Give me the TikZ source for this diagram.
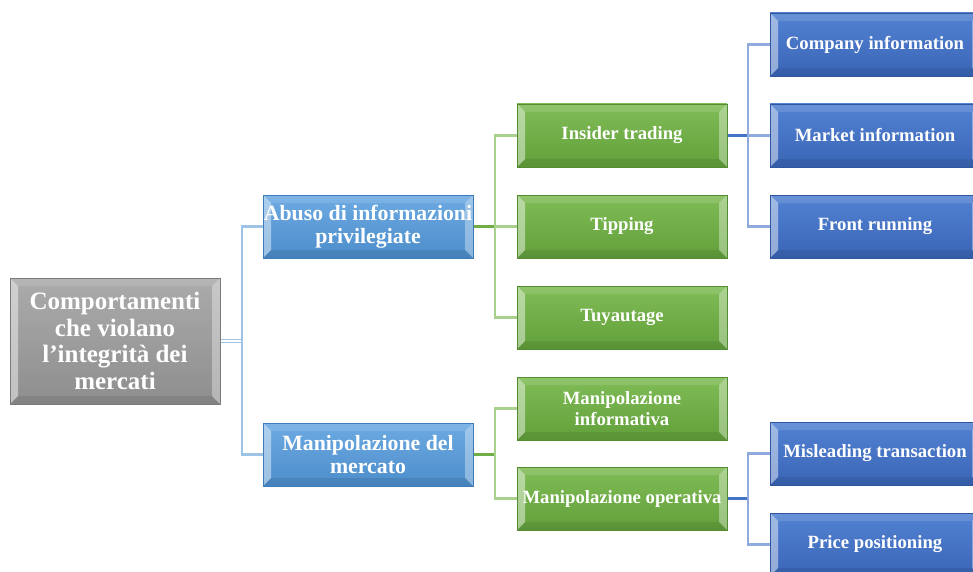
\documentclass[tikz,border=0pt]{standalone}
\usepackage{fontspec}
\setmainfont{Liberation Serif}
\usetikzlibrary{calc,backgrounds}
\definecolor{grayT}{HTML}{ABABAB}
\definecolor{grayB}{HTML}{8E8E8E}
\definecolor{grayD}{HTML}{7A7A7A}
\definecolor{lbT}{HTML}{6DAAE2}
\definecolor{lbB}{HTML}{4C8DCB}
\definecolor{lbD}{HTML}{3F7DB8}
\definecolor{gT}{HTML}{80BC57}
\definecolor{gB}{HTML}{62A03A}
\definecolor{gD}{HTML}{548C31}
\definecolor{dbT}{HTML}{5382D2}
\definecolor{dbB}{HTML}{3A65B6}
\definecolor{dbD}{HTML}{2F569E}
\definecolor{cLB}{HTML}{9DC3E6}
\definecolor{cLG}{HTML}{A9D18E}
\definecolor{cDG}{HTML}{70AD47}
\definecolor{cLD}{HTML}{8FAADC}
\definecolor{cDD}{HTML}{4472C4}
\tikzset{
  bevel/.style={path picture={
    \fill[white,opacity=0.45] (path picture bounding box.north west) -- ([xshift=8pt,yshift=-8pt]path picture bounding box.north west) -- ([xshift=8pt,yshift=8pt]path picture bounding box.south west) -- (path picture bounding box.south west) -- cycle;
    \fill[white,opacity=0.35] (path picture bounding box.north east) -- ([xshift=-8pt,yshift=-8pt]path picture bounding box.north east) -- ([xshift=-8pt,yshift=8pt]path picture bounding box.south east) -- (path picture bounding box.south east) -- cycle;
    \fill[white,opacity=0.12] (path picture bounding box.north west) -- (path picture bounding box.north east) -- ([xshift=-8pt,yshift=-8pt]path picture bounding box.north east) -- ([xshift=8pt,yshift=-8pt]path picture bounding box.north west) -- cycle;
    \fill[black,opacity=0.08] (path picture bounding box.south west) -- (path picture bounding box.south east) -- ([xshift=-8pt,yshift=8pt]path picture bounding box.south east) -- ([xshift=8pt,yshift=8pt]path picture bounding box.south west) -- cycle;
  }},
  boxbase/.style={bevel, rectangle, inner sep=0pt, minimum width=210pt, text=white, align=center, font=\bfseries, line width=0.8pt},
  rootbox/.style={boxbase, top color=grayT, bottom color=grayB, draw=grayD, minimum height=126pt, font=\bfseries\fontsize{25}{26.5}\selectfont},
  midbox/.style={boxbase, top color=lbT, bottom color=lbB, draw=lbD, minimum height=63pt, font=\bfseries\fontsize{21.8}{23.5}\selectfont},
  greenbox/.style={boxbase, top color=gT, bottom color=gB, draw=gD, minimum height=63pt, font=\bfseries\fontsize{18.7}{20.5}\selectfont},
  bluebox/.style={boxbase, top color=dbT, bottom color=dbB, draw=dbD, minimum height=63pt, font=\bfseries\fontsize{18.7}{20.5}\selectfont},
  conn/.style={line width=2.5pt},
}
\begin{document}
\begin{tikzpicture}[x=1pt,y=-1pt]
\clip (0,0) rectangle (973,572);
% junction coordinates
\coordinate (j1) at (242,341);
\coordinate (j2) at (495,226.5);
\coordinate (j3) at (495,454.5);
\coordinate (j4) at (748,135.5);
\coordinate (j5) at (748,498.5);
% nodes
\node[rootbox] (root) at (115,341) {Comportamenti\\che violano\\l’integrità dei\\mercati};
\node[midbox] (abuso) at (368,226.5) {Abuso di informazioni\\privilegiate};
\node[midbox] (manip) at (368,454.5) {Manipolazione del\\mercato};
\node[greenbox] (insider) at (622,135.5) {Insider trading};
\node[greenbox] (tipping) at (622,226.5) {Tipping};
\node[greenbox] (tuyau) at (622,317.5) {Tuyautage};
\node[greenbox] (minf) at (622,408.5) {Manipolazione\\informativa};
\node[greenbox] (mop) at (622,498.5) {Manipolazione operativa};
\node[bluebox] (company) at (875,44.5) {Company information};
\node[bluebox] (market) at (875,135.5) {Market information};
\node[bluebox] (front) at (875,226.5) {Front running};
\node[bluebox] (mislead) at (875,453.5) {Misleading transaction};
\node[bluebox] (price) at (875,544.5) {Price positioning};
% connectors
\begin{scope}[on background layer]
\fill[white] (0,0) rectangle (973,572);
\draw[cLB, line width=1.2pt, double=white, double distance=1.4pt] (root.east) -- (j1);
\draw[conn,cLB] (j1) |- (abuso.west);
\draw[conn,cLB] (j1) |- (manip.west);
\draw[conn,cDG] (abuso.east) -- (j2);
\draw[conn,cLG] (j2) |- (insider.west);
\draw[conn,cLG] (j2) -- (tipping.west);
\draw[conn,cLG] (j2) |- (tuyau.west);
\draw[conn,cDG] (manip.east) -- (j3);
\draw[conn,cLG] (j3) |- (minf.west);
\draw[conn,cLG] (j3) |- (mop.west);
\draw[conn,cDD] (insider.east) -- (j4);
\draw[conn,cLD] (j4) |- (company.west);
\draw[conn,cLD] (j4) -- (market.west);
\draw[conn,cLD] (j4) |- (front.west);
\draw[conn,cDD] (mop.east) -- (j5);
\draw[conn,cLD] (j5) |- (mislead.west);
\draw[conn,cLD] (j5) |- (price.west);
\end{scope}
\end{tikzpicture}
\end{document}
